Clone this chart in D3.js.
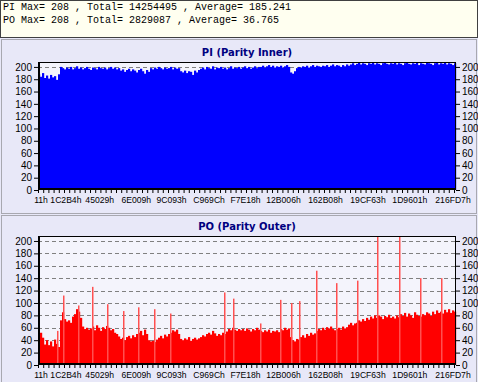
<!DOCTYPE html>
<html>
<head>
<meta charset="utf-8">
<script src="https://d3js.org/d3.v7.min.js"></script>
<style>
  body { margin: 0; background: #e8e8f8; }
  svg { display: block; }
</style>
</head>
<body>
<script>
// summary box at the top
var summaryLines = [
  "PI Max= 208 , Total= 14254495 , Average= 185.241",
  "PO Max= 208 , Total= 2829087 , Average= 36.765"
];

// x axis labels (sector addresses) and the bar index they sit under
var xLabels = ["11h", "1C2B4h", "45029h", "6E009h", "9C093h", "C969Ch",
  "F7E18h", "12B006h", "162B08h", "19CF63h", "1D9601h", "216FD7h"];
var xLabelPos = [1.25, 13.7, 30.6, 48.85, 66.5, 85.3, 103.5, 122.5, 143.5, 164.75, 185.65, 207.25];

var yTicks = [0, 20, 40, 60, 80, 100, 120, 140, 160, 180, 200];
var yMax = 208;

// PI (Parity Inner) per bar
var piValues = [
  188,184,190,182,186,181,187,183,185,179,188,
  200,198,196,199,197,200,196,198,201,197,
  199,196,198,200,197,195,199,198,196,200,
  198,197,199,196,198,200,197,199,196,198,
  194,196,192,195,197,193,196,194,191,195,
  197,193,189,195,192,
  198,196,199,197,200,198,196,199,197,198,200,196,199,197,198,
  193,191,194,190,193,192,187,194,191,195,
  197,199,196,200,198,197,201,196,199,198,
  200,197,199,196,198,201,197,199,198,200,
  197,199,201,198,200,197,199,201,198,200,
  200,202,199,201,203,200,202,199,201,200,
  202,199,201,203,200,
  191,189,193,
  198,200,199,201,200,202,199,201,203,200,202,201,
  200,202,201,203,200,202,204,201,203,202,200,203,201,204,202,
  204,206,203,205,207,204,206,205,203,206,
  205,207,204,206,205,203,206,207,205,204,
  206,205,207,204,206,205,203,206,207,205,
  204,206,205,207,203,206,205,204,207,206,
  205,203,206,207,204,206,205,207,204,206,205,203,206
];

// PO (Parity Outer) per bar
var poValues = [
  48,52,44,
  33,40,32,38,30,41,34,29,
  72,85,74,70,72,68,78,82,90,86,76,
  62,58,60,57,59,
  62,56,64,60,55,61,58,63,
  60,56,58,52,50,46,
  42,44,40,45,47,43,48,45,50,
  52,55,48,57,50,
  40,38,39,37,41,
  44,47,43,49,46,50,
  52,56,54,57,50,
  42,40,43,41,45,39,42,44,41,43,
  45,48,46,50,52,49,55,51,47,50,48,52,
  50,54,58,56,60,57,55,58,
  56,58,55,59,57,54,58,56,60,57,
  55,53,56,54,57,52,55,54,56,53,
  58,56,60,57,59,
  45,40,38,42,41,
  45,48,44,50,47,52,49,51,
  55,58,56,60,57,61,59,62,58,56,
  58,60,57,62,59,61,
  65,68,64,67,
  68,72,70,74,71,76,73,78,75,80,
  76,80,78,74,79,77,81,76,78,75,80,
  77,82,79,84,78,83,80,76,85,81,79,
  78,82,80,85,83,79,86,82,88,84,
  86,83,89,85,90,84,88,86
];

// thin single-sample peaks in PO
var poSpikePos = [9.5, 12.5, 20, 27, 34.5, 42.5, 50, 58, 66, 93, 97.5, 111, 121,
  126.5, 130.5, 139, 149, 159.5, 169.5, 180.5, 191, 201.5];
var poSpikeVal = [55, 112, 96, 126, 98, 87, 93, 90, 83, 117, 107, 67, 105,
  100, 103, 152, 132, 136, 208, 208, 140, 140];


var W = 478, H = 382;
var plotLeft = 38, plotRight = 456;

var svg = d3.select("body").append("svg")
  .attr("width", W)
  .attr("height", H);

// summary box
svg.append("rect")
  .attr("x", 0.5).attr("y", 0.5)
  .attr("width", W - 1).attr("height", 37)
  .attr("fill", "#fffff0")
  .attr("stroke", "#404040");

svg.selectAll("text.summary")
  .data(summaryLines)
  .enter()
  .append("text")
    .attr("class", "summary")
    .attr("x", 3)
    .attr("y", function(d, i) { return 10 + i * 13; })
    .attr("font-family", "Liberation Mono, monospace")
    .attr("font-size", 10)
    .attr("fill", "#000")
    .text(function(d) { return d; });


/**
 * One graph panel: title, frame, bars, axes on both sides
 */
class Panel_D3 {
  constructor(opts) {
    this.top = opts.top;
    this.bottom = opts.bottom;
    this.title = opts.title;
    this.values = opts.values;
    this.colour = opts.colour;

    this.x = d3.scaleLinear()
      .domain([0, this.values.length])
      .range([plotLeft, plotRight]);
    this.y = d3.scaleLinear()
      .domain([0, yMax])
      .range([this.bottom, this.top]);

    this.g = svg.append("g");
  };

  frame(boxTop, boxBottom) {
    this.g.append("rect")
      .attr("x", 1.5).attr("y", boxTop + 0.5)
      .attr("width", W - 3).attr("height", boxBottom - boxTop - 1)
      .attr("fill", "#e8e8f8")
      .attr("stroke", "#a8a8b0");

    this.g.append("rect")
      .attr("x", plotLeft).attr("y", this.top)
      .attr("width", plotRight - plotLeft).attr("height", this.bottom - this.top)
      .attr("fill", "#f4f4fc");

    this.g.append("text")
      .attr("x", (plotLeft + plotRight) / 2)
      .attr("y", this.top - 6)
      .attr("text-anchor", "middle")
      .attr("font-family", "DejaVu Sans, Verdana, sans-serif")
      .attr("font-weight", "bold")
      .attr("font-size", 10)
      .attr("fill", "#000080")
      .text(this.title);
  };

  grid() {
    var obj = this;
    this.g.selectAll("line.grid")
      .data(yTicks.filter(function(d) { return d > 0; }))
      .enter()
      .append("line")
        .attr("class", "grid")
        .attr("x1", plotLeft).attr("x2", plotRight)
        .attr("y1", function(d) { return Math.round(obj.y(d)) + 0.5; })
        .attr("y2", function(d) { return Math.round(obj.y(d)) + 0.5; })
        .attr("stroke", "#808080")
        .attr("stroke-dasharray", "4,3");
  };

  bars() {
    var obj = this;
    this.g.selectAll("rect.bar")
      .data(this.values)
      .enter()
      .append("rect")
        .attr("class", "bar")
        .attr("x", function(d, i) { return obj.x(i); })
        .attr("width", obj.x(1) - obj.x(0) + 0.2)
        .attr("y", function(d) { return obj.y(d); })
        .attr("height", function(d) { return obj.bottom - obj.y(d); })
        .attr("fill", obj.colour);
  };

  spikes(pos, val, colour) {
    var obj = this;
    this.g.selectAll("rect.spike")
      .data(pos)
      .enter()
      .append("rect")
        .attr("class", "spike")
        .attr("x", function(d) { return obj.x(d); })
        .attr("width", 1.5)
        .attr("y", function(d, i) { return obj.y(val[i]); })
        .attr("height", function(d, i) { return obj.bottom - obj.y(val[i]); })
        .attr("fill", colour);
  };

  axes() {
    var font = function(path, size) {
      path.selectAll("text")
        .attr("font-family", "Liberation Sans, Arial, sans-serif")
        .attr("font-size", size || 10)
        .attr("fill", "#000");
      path.selectAll("line").attr("stroke", "#000");
      path.select(".domain").remove();
    };

    this.g.append("g")
      .attr("transform", "translate(" + plotLeft + ",0)")
      .call(d3.axisLeft(this.y).tickValues(yTicks).tickSize(4).tickPadding(2))
      .call(font);

    this.g.append("g")
      .attr("transform", "translate(" + plotRight + ",0)")
      .call(d3.axisRight(this.y).tickValues(yTicks).tickSize(4).tickPadding(2))
      .call(font);

    // small minor ticks under the plot
    this.g.append("g")
      .attr("transform", "translate(0," + this.bottom + ")")
      .call(d3.axisBottom(this.x).tickValues(d3.range(0, this.values.length, 2.6)).tickSize(3).tickFormat(""))
      .call(font);

    this.g.append("g")
      .attr("transform", "translate(0," + (this.bottom + 4) + ")")
      .call(d3.axisBottom(this.x).tickValues(xLabelPos).tickSize(0).tickPadding(3)
        .tickFormat(function(d, i) { return xLabels[i]; }))
      .call(font, 8.6);

    // plot border, heavier on left and bottom
    this.g.append("rect")
      .attr("x", plotLeft + 0.5).attr("y", this.top + 0.5)
      .attr("width", plotRight - plotLeft - 1).attr("height", this.bottom - this.top - 1)
      .attr("fill", "none")
      .attr("stroke", "#000");
    this.g.append("path")
      .attr("d", "M" + (plotLeft + 1) + "," + this.top + "V" + (this.bottom - 1) + "H" + plotRight)
      .attr("fill", "none")
      .attr("stroke", "#000")
      .attr("stroke-width", 2);
  };
};


var pi = new Panel_D3({top: 62, bottom: 190, title: "PI (Parity Inner)", values: piValues, colour: "#0000ff"});
pi.frame(39, 214);
pi.grid();
pi.bars();
pi.axes();

var po = new Panel_D3({top: 236, bottom: 365, title: "PO (Parity Outer)", values: poValues, colour: "#ff0000"});
po.frame(215, H + 2);
po.grid();
po.bars();
po.spikes(poSpikePos, poSpikeVal, "#ff5050");
po.axes();
</script>
</body>
</html>
